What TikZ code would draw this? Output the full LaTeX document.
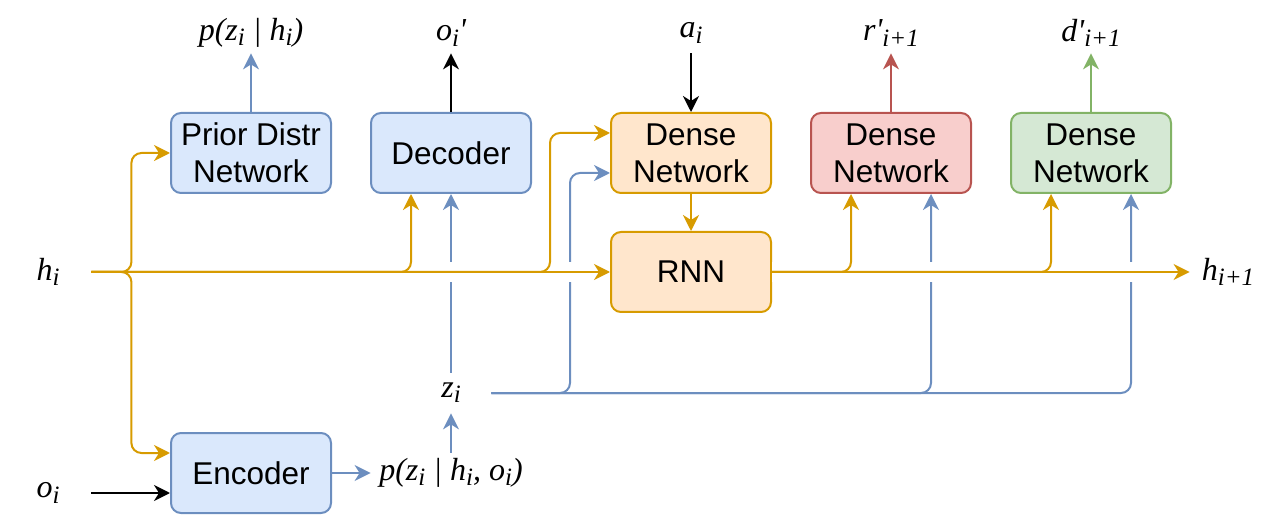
\documentclass[tikz,border=0pt]{standalone}
\usepackage{fontspec}
\setmainfont{Liberation Sans}
\newfontfamily\lblserif{Liberation Serif}
\usetikzlibrary{arrows.meta}
\definecolor{blueD}{HTML}{6C8EBF}
\definecolor{blueL}{HTML}{DAE8FC}
\definecolor{orgD}{HTML}{D79B00}
\definecolor{orgL}{HTML}{FFE6CC}
\definecolor{redD}{HTML}{B85450}
\definecolor{redL}{HTML}{F8CECC}
\definecolor{grnD}{HTML}{82B366}
\definecolor{grnL}{HTML}{D5E8D4}
\newcommand\sbs[1]{\raisebox{-0.35ex}{\fontsize{12.5}{13}\selectfont #1}}
\begin{document}
\begin{tikzpicture}[x=0.5pt,y=-0.5pt,
 net/.style={draw, rounded corners=5pt, line width=1pt, minimum width=80pt, minimum height=40pt,
   inner sep=1pt, align=center, font=\fontsize{15.75}{18.5}\selectfont},
 lbl/.style={inner sep=0pt, minimum width=40pt, minimum height=20pt,
   font=\fontsize{16}{19}\selectfont\lblserif\itshape},
 wire/.style={line width=1pt, rounded corners=5pt, -{Stealth[length=8pt,width=8pt,inset=2.5pt]}},
 cut/.style={preaction={draw=white, line width=10pt, -}},
]
 \useasboundingbox (0,0) rectangle (1282,524);
 % boxes
 \node[net, draw=blueD, fill=blueL] (pri) at (251,153) {Prior Distr\\Network};
 \node[net, draw=blueD, fill=blueL] (dec) at (451,153) {Decoder};
 \node[net, draw=blueD, fill=blueL] (enc) at (251,473) {Encoder};
 \node[net, draw=orgD, fill=orgL] (dns) at (691,153) {Dense\\Network};
 \node[net, draw=orgD, fill=orgL] (rnn) at (691,272) {RNN};
 \node[net, draw=redD, fill=redL] (rdn) at (891,153) {Dense\\Network};
 \node[net, draw=grnD, fill=grnL] (gdn) at (1091,153) {Dense\\Network};
 % labels
 \node[lbl, minimum width=43pt] (hi) at (48,272) {h\sbs{i}};
 \node[lbl, minimum width=43pt] (oi) at (48,493) {o\sbs{i}};
 \node[lbl, minimum width=38pt] (hip) at (1228,272) {h\sbs{i+1}};
 \node[lbl] (zi) at (451,393) {z\sbs{i}};
 \node[lbl, minimum width=80pt] (pzho) at (451,473) {p(z\sbs{i} | h\sbs{i}, o\sbs{i})};
 \node[lbl, minimum width=60pt] (pzh) at (251,33) {p(z\sbs{i} | h\sbs{i})};
 \node[lbl] (oip) at (451,33) {o\sbs{i}'};
 \node[lbl] (ai) at (691,33) {a\sbs{i}};
 \node[lbl] (rp) at (891,33) {r'\sbs{i+1}};
 \node[lbl] (dp) at (1091,33) {d'\sbs{i+1}};
 % latent z paths (first, so the h line cuts gaps in them)
 \draw[wire, blueD] (zi.north) -- (dec.south);
 \draw[wire, blueD] (zi.east) -| ([xshift=-20pt,yshift=-10pt]dns.west) -- ([yshift=-10pt]dns.west);
 \draw[wire, blueD] (zi.east) -| ([xshift=20pt]rdn.south);
 \draw[wire, blueD] (zi.east) -| ([xshift=20pt]gdn.south);
 % recurrent state h
 \draw[wire, orgD, cut] (hi.east) -- (rnn.west);
 \draw[wire, orgD, cut] (rnn.east) -- (hip.west);
 \draw[wire, orgD] (hi.east) -- ++(40,0) |- (pri.west);
 \draw[wire, orgD] (hi.east) -- ++(40,0) |- ([yshift=10pt]enc.west);
 \draw[wire, orgD] (hi.east) -| ([xshift=-20pt]dec.south);
 \draw[wire, orgD] (hi.east) -| ([xshift=-30pt,yshift=10pt]dns.west) -- ([yshift=10pt]dns.west);
 \draw[wire, orgD] (dns.south) -- (rnn.north);
 \draw[wire, orgD] (rnn.east) -| ([xshift=-20pt]rdn.south);
 \draw[wire, orgD] (rnn.east) -| ([xshift=-20pt]gdn.south);
 % inputs and outputs
 \draw[wire] (oi.east) -- ([yshift=-10pt]enc.west);
 \draw[wire] (ai.south) -- (dns.north);
 \draw[wire] (dec.north) -- (oip.south);
 \draw[wire, blueD] (pri.north) -- (pzh.south);
 \draw[wire, blueD] (enc.east) -- (pzho.west);
 \draw[wire, blueD] (pzho.north) -- (zi.south);
 \draw[wire, redD] (rdn.north) -- (rp.south);
 \draw[wire, grnD] (gdn.north) -- (dp.south);
\end{tikzpicture}
\end{document}
